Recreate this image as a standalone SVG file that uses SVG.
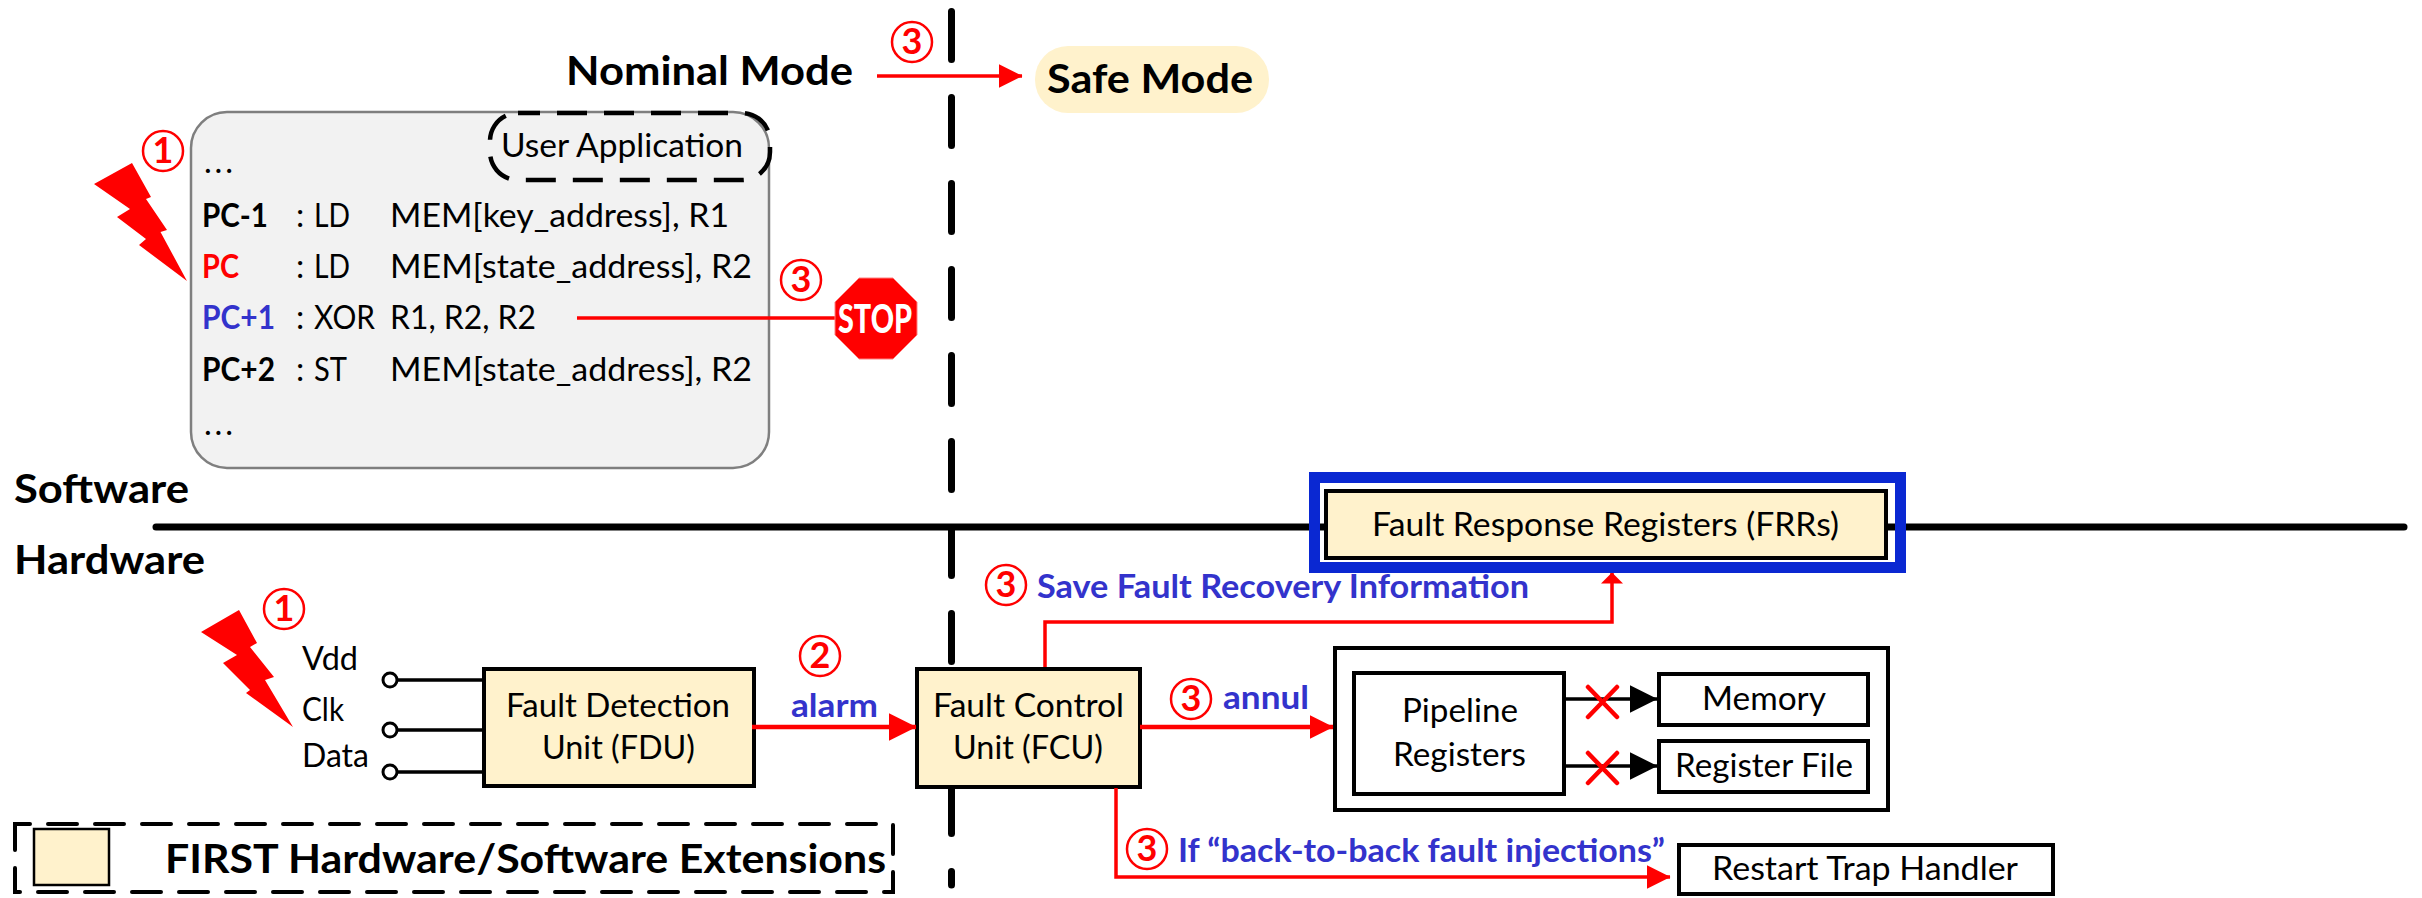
<svg xmlns="http://www.w3.org/2000/svg" width="2422" height="898" viewBox="0 0 2422 898">
<style>
text{font-family:Lato,"Liberation Sans",sans-serif;font-size:33px;fill:#000}
.b{font-weight:700}
.big{font-weight:700;font-size:41px}
.blue{font-weight:700;fill:#3333cc;font-size:33px}
.red{fill:#ff0000}
.num{font-size:36px;font-weight:700;fill:#ff0000;text-anchor:middle}
.ring{fill:none;stroke:#ff0000;stroke-width:2.5}
.ext{fill:#fff2cc;stroke:#000;stroke-width:4}
.plain{fill:#fff;stroke:#000;stroke-width:4}
.r{fill:none;stroke:#ff0000}
.k{fill:none;stroke:#000}
.bolt{fill:#ff0000}
</style>
<defs>
<marker id="ah" markerUnits="userSpaceOnUse" markerWidth="24" markerHeight="24" refX="23.500" refY="12" orient="auto"><path d="M0 0L24 12L0 24Z" fill="#ff0000"/></marker>
<marker id="ahl" markerUnits="userSpaceOnUse" markerWidth="28" markerHeight="28" refX="27.500" refY="14" orient="auto"><path d="M0 0L28 14L0 28Z" fill="#ff0000"/></marker>
<marker id="ahs" markerUnits="userSpaceOnUse" markerWidth="11" markerHeight="22" refX="10.500" refY="11" orient="auto"><path d="M0 0L11 11L0 22Z" fill="#ff0000"/></marker>
<marker id="ahk" markerUnits="userSpaceOnUse" markerWidth="28" markerHeight="28" refX="27.500" refY="14" orient="auto"><path d="M0 0L28 14L0 28Z" fill="#000"/></marker>
</defs>

<g id="boundaries">
<path d="M951.5 11.500V885" fill="none" stroke="#000" stroke-width="7" stroke-linecap="round" stroke-dasharray="48 38"/>
<path d="M156 527H2404" fill="none" stroke="#000" stroke-width="7" stroke-linecap="round"/>
</g>
<g id="layer-labels">
<text class="big" x="14" y="503" textLength="175" lengthAdjust="spacingAndGlyphs">Software</text>
<text class="big" x="14" y="574" textLength="191" lengthAdjust="spacingAndGlyphs">Hardware</text>
</g>

<g id="nominal-mode"><text class="big" x="566" y="85" textLength="287" lengthAdjust="spacingAndGlyphs">Nominal Mode</text></g>
<g id="safe-mode"><rect x="1035" y="46" width="234" height="67" rx="33" fill="#fff2cc"/><text class="big" x="1047" y="93" textLength="206" lengthAdjust="spacingAndGlyphs">Safe Mode</text></g>

<g id="user-application">
<rect x="191" y="112" width="578" height="356" rx="36" fill="#f2f2f2" stroke="#7f7f7f" stroke-width="2.5"/>
<rect x="490" y="113" width="280" height="67" rx="28" fill="none" stroke="#000" stroke-width="4.5" stroke-dasharray="30 17" stroke-dashoffset="8"/>
<text x="501" y="157" textLength="242" lengthAdjust="spacingAndGlyphs">User Application</text>
<text x="204" y="173" textLength="29" lengthAdjust="spacing">...</text>
<text class="b" x="202" y="227" textLength="66" lengthAdjust="spacingAndGlyphs">PC-1</text>
<text x="296" y="227">:</text><text x="314" y="227" textLength="36" lengthAdjust="spacingAndGlyphs">LD</text>
<text x="390" y="227" textLength="339" lengthAdjust="spacingAndGlyphs">MEM[key_address], R1</text>
<text class="b red" x="202" y="278" textLength="37" lengthAdjust="spacingAndGlyphs">PC</text>
<text x="296" y="278">:</text><text x="314" y="278" textLength="36" lengthAdjust="spacingAndGlyphs">LD</text>
<text x="390" y="278" textLength="362" lengthAdjust="spacingAndGlyphs">MEM[state_address], R2</text>
<text class="blue" x="202" y="329" textLength="73" lengthAdjust="spacingAndGlyphs">PC+1</text>
<text x="296" y="329">:</text><text x="314" y="329" textLength="61" lengthAdjust="spacingAndGlyphs">XOR</text>
<text x="390" y="329" textLength="146" lengthAdjust="spacingAndGlyphs">R1, R2, R2</text>
<text class="b" x="202" y="381" textLength="73" lengthAdjust="spacingAndGlyphs">PC+2</text>
<text x="296" y="381">:</text><text x="314" y="381" textLength="33" lengthAdjust="spacingAndGlyphs">ST</text>
<text x="390" y="381" textLength="362" lengthAdjust="spacingAndGlyphs">MEM[state_address], R2</text>
<text x="204" y="435" textLength="29" lengthAdjust="spacing">...</text>
</g>

<g id="fault-response-registers">
<rect x="1314.5" y="477.5" width="586" height="90" fill="none" stroke="#0a28d2" stroke-width="11"/>
<rect class="ext" x="1326" y="491" width="560" height="67"/>
<text x="1372" y="536" textLength="467" lengthAdjust="spacingAndGlyphs">Fault Response Registers (FRRs)</text>
</g>
<g id="fdu">
<rect class="ext" x="484" y="669" width="270" height="117"/>
<text x="506" y="717" textLength="224" lengthAdjust="spacingAndGlyphs">Fault Detection</text>
<text x="542" y="759" textLength="153" lengthAdjust="spacingAndGlyphs">Unit (FDU)</text>
</g>
<g id="fcu">
<rect class="ext" x="917" y="669" width="223" height="118"/>
<text x="933" y="717" textLength="191" lengthAdjust="spacingAndGlyphs">Fault Control</text>
<text x="953" y="759" textLength="150" lengthAdjust="spacingAndGlyphs">Unit (FCU)</text>
</g>
<g id="inputs">
<text x="302" y="670" textLength="56" lengthAdjust="spacingAndGlyphs">Vdd</text>
<text x="302" y="721" textLength="42" lengthAdjust="spacingAndGlyphs">Clk</text>
<text x="302" y="767" textLength="67" lengthAdjust="spacingAndGlyphs">Data</text>
<circle cx="390" cy="680" r="7" fill="#fff" stroke="#000" stroke-width="3"/>
<circle cx="390" cy="730" r="7" fill="#fff" stroke="#000" stroke-width="3"/>
<circle cx="390" cy="772" r="7" fill="#fff" stroke="#000" stroke-width="3"/>
</g>
<g id="hardware-block">
<rect class="plain" x="1335" y="648" width="553" height="162"/>
</g>
<g id="pipeline-registers">
<rect class="plain" x="1354" y="673" width="210" height="121"/>
<text x="1402" y="722" textLength="116" lengthAdjust="spacingAndGlyphs">Pipeline</text>
<text x="1393" y="766" textLength="133" lengthAdjust="spacingAndGlyphs">Registers</text>
</g>
<g id="memory"><rect class="plain" x="1659" y="674" width="209" height="51"/><text x="1702" y="710" textLength="124" lengthAdjust="spacingAndGlyphs">Memory</text></g>
<g id="register-file"><rect class="plain" x="1659" y="741" width="209" height="51"/><text x="1675" y="777" textLength="178" lengthAdjust="spacingAndGlyphs">Register File</text></g>
<g id="restart-trap-handler"><rect class="plain" x="1679" y="845" width="374" height="49"/><text x="1712" y="880" textLength="306" lengthAdjust="spacingAndGlyphs">Restart Trap Handler</text></g>

<g id="connectors">
<path class="r" stroke-width="3.5" d="M877 76H1022" marker-end="url(#ah)"/>
<path class="r" stroke-width="3.5" d="M577 318H836"/>
<path class="r" stroke-width="4.5" d="M752 727H916" marker-end="url(#ahl)"/>
<path class="r" stroke-width="4.5" d="M1140 727H1333" marker-end="url(#ah)"/>
<path class="r" stroke-width="3.5" d="M1045 667V622H1612V573" marker-end="url(#ahs)"/>
<path class="r" stroke-width="3.5" d="M1116 788V877H1670" marker-end="url(#ah)"/>
<path class="k" stroke-width="3.5" d="M397 680H483M397 730H483M397 772H483"/>
<path class="k" stroke-width="3.5" d="M1566 699H1657" marker-end="url(#ahk)"/>
<path class="k" stroke-width="3.5" d="M1566 766H1657" marker-end="url(#ahk)"/>
</g>
<g id="blocked-marks">
<path class="r" stroke-width="4.5" stroke-linecap="round" d="M1588 687L1617 717M1617 687L1588 717M1588 753L1617 783M1617 753L1588 783"/>
</g>
<g id="stop-sign">
<path d="M859 278H893L917 302V335L893 359H859L835 335V302Z" fill="#ff0000" stroke="#ff8080" stroke-width="1"/>
<text x="838" y="333" class="b" style="fill:#fff;font-size:39px;font-weight:900" textLength="74" lengthAdjust="spacingAndGlyphs">STOP</text>
</g>

<g id="faults">
<path class="bolt" d="M132 163L94 184L130 209L117 217L146 239L139 245L187 281L160.500 232L167 230L146 199L151 197Z"/>
<path class="bolt" d="M239 610L201 632L237 655L223 663L250 690L246 693L293 727L265 680L274 677L250 647L257 643Z"/>
</g>

<g id="step-markers">
<circle class="ring" cx="912" cy="42" r="20"/><text class="num" x="912" y="54">3</text>
<circle class="ring" cx="163" cy="151" r="20"/><text class="num" x="163" y="163">1</text>
<circle class="ring" cx="801" cy="280" r="20"/><text class="num" x="801" y="292">3</text>
<circle class="ring" cx="284" cy="609" r="20"/><text class="num" x="284" y="621">1</text>
<circle class="ring" cx="820" cy="656" r="20"/><text class="num" x="820" y="668">2</text>
<circle class="ring" cx="1006" cy="585" r="20"/><text class="num" x="1006" y="597">3</text>
<circle class="ring" cx="1191" cy="699" r="20"/><text class="num" x="1191" y="711">3</text>
<circle class="ring" cx="1147" cy="849" r="20"/><text class="num" x="1147" y="861">3</text>
</g>
<g id="connector-labels">
<text class="blue" x="791" y="717" textLength="87" lengthAdjust="spacingAndGlyphs">alarm</text>
<text class="blue" x="1223" y="709" textLength="86" lengthAdjust="spacingAndGlyphs">annul</text>
<text class="blue" x="1037" y="598" textLength="492" lengthAdjust="spacingAndGlyphs">Save Fault Recovery Information</text>
<text class="blue" x="1178" y="862" textLength="487" lengthAdjust="spacingAndGlyphs">If “back-to-back fault injections”</text>
</g>

<g id="legend">
<rect x="15" y="824" width="878" height="68" fill="none" stroke="#000" stroke-width="4" stroke-linecap="round" stroke-dasharray="29 18" stroke-dashoffset="14"/>
<rect x="34" y="829" width="75" height="56" fill="#fff2cc" stroke="#000" stroke-width="2.500"/>
<text class="big" x="165" y="873" textLength="721" lengthAdjust="spacingAndGlyphs">FIRST Hardware/Software Extensions</text>
</g>
</svg>
